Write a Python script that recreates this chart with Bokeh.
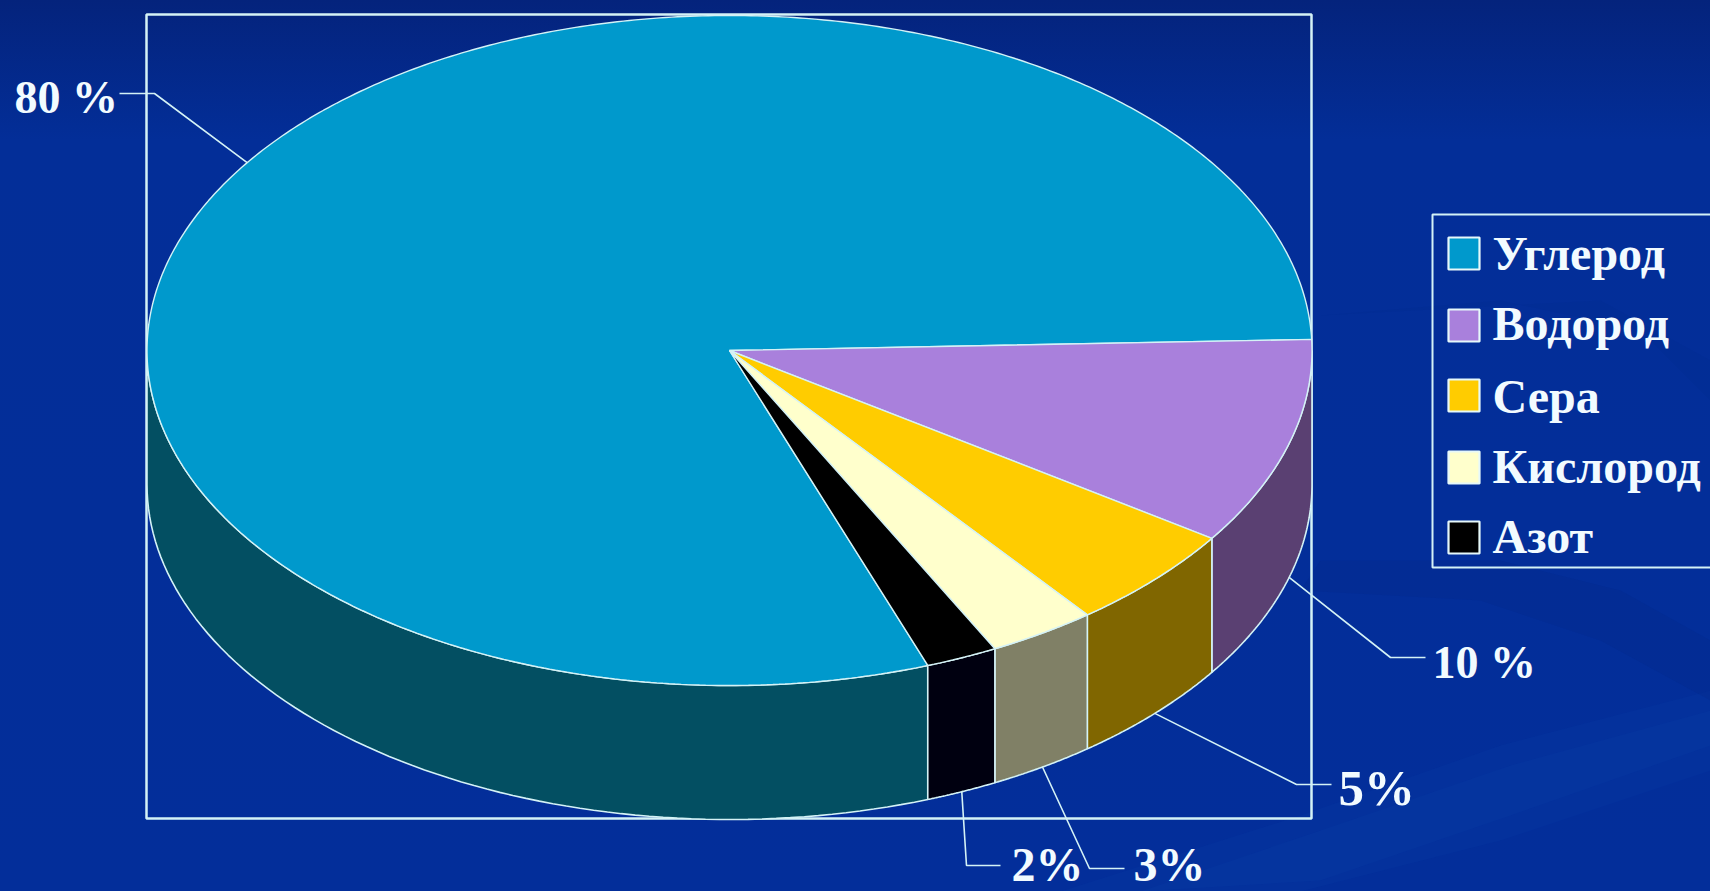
import numpy as np
from bokeh.plotting import figure
from bokeh.models import Range1d
from bokeh.core.properties import value
from bokeh.embed import file_html
from bokeh.resources import INLINE

categories = ["Углерод", "Водород", "Сера", "Кислород", "Азот"]
shares = [80, 10, 5, 3, 2]
share_labels = ["80 %", "10 %", "5%", "3%", "2%"]
top_colors = ["#0099CC", "#A980DC", "#FFCC00", "#FFFFCC", "#000000"]
side_colors = ["#034F62", "#5A4072", "#806600", "#808066", "#000010"]

# layout (pixels of the slide)
W, H = 1710, 891
CX, CY, RX, RY, DEPTH = 729, 350, 582.5, 335, 134
START_ANGLE = -70.1
DESCENT = 0.216  # of the font size: from the wanted baseline down to the text box's bottom
LINE = "#D4F2F6"
TEXT = "#F2FBFF"
FONT = value("Liberation Serif")
leader_bends = [[(154, 93), (119, 93)], [(1390, 657), (1425, 657)], [(1296, 784), (1331, 784)],
                [(1089, 868), (1124, 868)], [(966, 865), (1000, 865)]]
label_pos = [(14, 113, 46), (1432, 678, 46), (1338, 804, 51), (1133, 880, 48), (1011, 880, 48)]
legend_rows = [(237, 269), (309, 339), (379, 412), (451, 482), (521, 552)]

p = figure(width=W, height=H, x_range=Range1d(0, W), y_range=Range1d(H, 0),
           output_backend="svg", toolbar_location=None, min_border=0,
           background_fill_color=None, border_fill_color=None, outline_line_color=None)
p.axis.visible = False
p.grid.visible = False


def rim(a, drop=0.0):
    r = np.radians(a)
    return CX + RX * np.cos(r), CY - RY * np.sin(r) + drop


# soft background swooshes
swooshes = [
    ([1060, 1300, 1500, 1710, 1710, 1500, 1300], [891, 815, 745, 690, 770, 840, 891], "#2A62C8", 0.06),
    ([1140, 1320, 1510, 1710, 1710, 1510, 1320], [891, 830, 765, 710, 745, 815, 880], "#2A62C8", 0.06),
    ([1300, 1480, 1600, 1710, 1710, 1620, 1500, 1320], [590, 600, 640, 700, 640, 590, 560, 560], "#04237C", 0.15),
    ([1320, 1500, 1640, 1710, 1710, 1600], [315, 300, 330, 400, 360, 300], "#04237C", 0.10),
]
for xs, ys, col, al in swooshes:
    p.patch(xs, ys, fill_color=col, fill_alpha=al, line_color=None)

# plot frame
p.quad(left=[146], right=[1311], top=[14], bottom=[818], fill_color=None, line_color=LINE, line_width=2.5)

# slice boundaries, clockwise
edges = START_ANGLE - np.cumsum([0] + [s * 3.6 for s in shares])

# outer walls first, then the top faces
for i in range(len(shares)):
    a1, a2 = edges[i], edges[i + 1]
    hi, lo = a1, a2
    while lo < -360:
        lo += 360
        hi += 360
    hi_v, lo_v = min(hi, 0), max(lo, -180)
    if i == 0:
        hi_v, lo_v = a1, -180
    if hi_v <= lo_v:
        continue
    t = np.linspace(hi_v, lo_v, 80)
    xt, yt = rim(t)
    xb, yb = rim(t[::-1], DEPTH)
    p.patch(np.r_[xt, xb], np.r_[yt, yb], fill_color=side_colors[i], line_color=LINE, line_width=1.6)

for i in range(len(shares)):
    t = np.linspace(edges[i], edges[i + 1], max(12, int(shares[i] * 6)))
    xt, yt = rim(t)
    p.patch(np.r_[CX, xt], np.r_[CY, yt], fill_color=top_colors[i], line_color=LINE, line_width=1.4)

# leader lines and value labels
for i in range(len(shares)):
    mid = (edges[i] + edges[i + 1]) / 2
    x0, y0 = rim(mid, DEPTH if np.sin(np.radians(mid)) < 0 else 0)
    xs = [x0] + [q[0] for q in leader_bends[i]]
    ys = [y0] + [q[1] for q in leader_bends[i]]
    p.line(xs, ys, line_color=LINE, line_width=1.6)
    lx, ly, fs = label_pos[i]
    p.text([lx], [ly + DESCENT * fs], text=[share_labels[i]], text_color=TEXT, text_font=FONT,
           text_font_style="bold", text_font_size=f"{fs}px", text_baseline="bottom", text_align="left")

# legend
p.line([1710, 1432, 1432, 1710], [214, 214, 567, 567], line_color=LINE, line_width=2)
for i, name in enumerate(categories):
    top, base = legend_rows[i]
    p.quad(left=[1448], right=[1479], top=[top], bottom=[top + 32], fill_color=top_colors[i],
           line_color="#E6F8FA", line_width=2.2)
    p.text([1492], [base + DESCENT * 48], text=[name], text_color=TEXT, text_font=FONT,
           text_font_style="bold", text_font_size="48px", text_baseline="bottom", text_align="left")

html = file_html(p, INLINE)
css = ("<style>html,body{margin:0;padding:0;width:100%;height:100%;overflow:hidden;"
       "background:linear-gradient(180deg,#04237C 0,#032E98 140px,#032E9A 100%);}</style>")
html = html.replace("<head>", "<head>" + css, 1)
open("out.html", "w", encoding="utf-8").write(html)
